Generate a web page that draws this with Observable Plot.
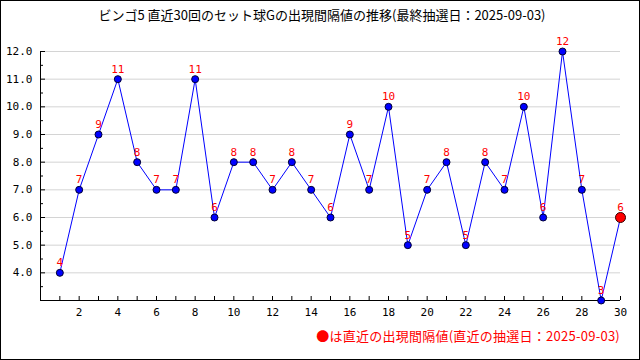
<!DOCTYPE html>
<html>
<head>
<meta charset="utf-8">
<script src="https://cdn.jsdelivr.net/npm/d3@7"></script>
<script src="https://cdn.jsdelivr.net/npm/@observablehq/plot@0.6"></script>
<style>
  html, body { margin: 0; padding: 0; background: #fff; }
  #wrap { position: relative; width: 640px; height: 360px; overflow: hidden; background: #fff; }
  #frame { position: absolute; left: 0; top: 0; width: 640px; height: 360px; box-sizing: border-box; border: 1px solid #000; pointer-events: none; }
  #title { position: absolute; left: 2px; top: 5px; width: 640px; text-align: center; font: 13px "Noto Sans CJK JP", sans-serif; color: #000; line-height: 20px; }
  #foot { position: absolute; right: 20px; top: 326px; font: 13px "Noto Sans CJK JP", sans-serif; letter-spacing: 0.25px; color: #ff0000; line-height: 20px; white-space: nowrap; }
  #chart { position: absolute; left: 0; top: 0; }
</style>
</head>
<body>
<div id="wrap">
  <div id="chart"></div>
  <div id="title">ビンゴ5 直近30回のセット球Gの出現間隔値の推移(最終抽選日：2025-09-03)</div>
  <div id="foot">●は直近の出現間隔値(直近の抽選日：2025-09-03)</div>
  <div id="frame"></div>
</div>
<script>
const rounds = [1,2,3,4,5,6,7,8,9,10,11,12,13,14,15,16,17,18,19,20,21,22,23,24,25,26,27,28,29,30];
const intervals = [4,7,9,11,8,7,7,11,6,8,8,7,8,7,6,9,7,10,5,7,8,5,8,7,10,6,12,7,3,6];
const xTickLabels = [2,4,6,8,10,12,14,16,18,20,22,24,26,28,30];
const yTickLabels = [4,5,6,7,8,9,10,11,12];
const yMinorTicks = [3.5,4.5,5.5,6.5,7.5,8.5,9.5,10.5,11.5];

const data = rounds.map((r, i) => ({round: r, value: intervals[i]}));
const latest = [data[data.length - 1]];

const chart = Plot.plot({
  width: 640,
  height: 360,
  marginLeft: 40,
  marginRight: 20,
  marginTop: 51,
  marginBottom: 60,
  x: {domain: [0, 30], axis: null, label: null},
  y: {domain: [3, 12], axis: null, label: null},
  style: {fontFamily: "'DejaVu Sans Mono', monospace", fontSize: "11px", background: "transparent", color: "#000"},
  marks: [
    Plot.ruleY(yTickLabels, {stroke: "#d4d4d4", strokeWidth: 1}),
    Plot.ruleX([0], {stroke: "#000"}),
    Plot.ruleY([3], {stroke: "#000"}),
    Plot.axisY(yTickLabels, {anchor: "left", label: null, tickSize: -5, tickPadding: 13, tickFormat: d => d.toFixed(1), stroke: "#000", fill: "#000", fontSize: 11}),
    Plot.axisY(yMinorTicks, {anchor: "left", label: null, tickSize: -3, text: null, stroke: "#000"}),
    Plot.axisX(rounds, {anchor: "bottom", label: null, tickSize: -4, text: null, stroke: "#000"}),
    Plot.axisX(xTickLabels, {anchor: "bottom", label: null, tickSize: 0, tickPadding: 8, fill: "#000", fontSize: 11}),
    Plot.line(data, {x: "round", y: "value", stroke: "#0000ff", strokeWidth: 1}),
    Plot.dot(data.slice(0, -1), {x: "round", y: "value", r: 3.5, fill: "#0000ff", stroke: "#000033", strokeWidth: 1}),
    Plot.dot(latest, {x: "round", y: "value", r: 5, fill: "#ff0000", stroke: "#330000", strokeWidth: 1}),
    Plot.text(data, {x: "round", y: "value", text: d => String(d.value), dy: -10, fill: "#ff0000", fontSize: 11})
  ]
});
document.getElementById("chart").appendChild(chart);
</script>
</body>
</html>
